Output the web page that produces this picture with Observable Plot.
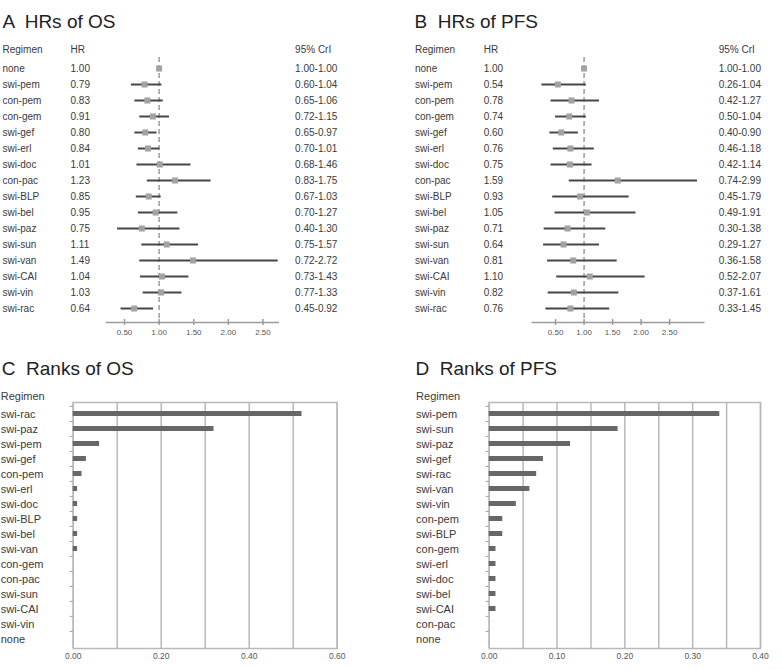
<!DOCTYPE html>
<html>
<head>
<meta charset="utf-8">
<script src="https://cdn.jsdelivr.net/npm/d3@7"></script>
<script src="https://cdn.jsdelivr.net/npm/@observablehq/plot@0.6"></script>
<style>
  body { margin: 0; background: #fff; }
  #chart { position: relative; width: 782px; height: 670px; background: #fff; font-family: "Liberation Sans", Arial, sans-serif; }
  .title { position: absolute; font-size: 19px; line-height: 19px; color: #222; white-space: pre; }
  #chart svg { position: absolute; }
</style>
</head>
<body>
<div id="chart"></div>
<script>
// Hazard ratios (with 95% credible intervals) versus "none"
const regimens = ["none","swi-pem","con-pem","con-gem","swi-gef","swi-erl","swi-doc","con-pac","swi-BLP","swi-bel","swi-paz","swi-sun","swi-van","swi-CAI","swi-vin","swi-rac"];

const osHR   = [1.00,0.79,0.83,0.91,0.80,0.84,1.01,1.23,0.85,0.95,0.75,1.11,1.49,1.04,1.03,0.64];
const osLow  = [1.00,0.60,0.65,0.72,0.65,0.70,0.68,0.83,0.67,0.70,0.40,0.75,0.72,0.73,0.77,0.45];
const osHigh = [1.00,1.04,1.06,1.15,0.97,1.01,1.46,1.75,1.03,1.27,1.30,1.57,2.72,1.43,1.33,0.92];

const pfsHR   = [1.00,0.54,0.78,0.74,0.60,0.76,0.75,1.59,0.93,1.05,0.71,0.64,0.81,1.10,0.82,0.76];
const pfsLow  = [1.00,0.26,0.42,0.50,0.40,0.46,0.42,0.74,0.45,0.49,0.30,0.29,0.36,0.52,0.37,0.33];
const pfsHigh = [1.00,1.04,1.27,1.04,0.90,1.18,1.14,2.99,1.79,1.91,1.38,1.27,1.58,2.07,1.61,1.45];

const hrTicks = [0.5, 1.0, 1.5, 2.0, 2.5];

// Probability of ranking best
const osRankNames = ["swi-rac","swi-paz","swi-pem","swi-gef","con-pem","swi-erl","swi-doc","swi-BLP","swi-bel","swi-van","con-gem","con-pac","swi-sun","swi-CAI","swi-vin","none"];
const osRankProb  = [0.52,0.32,0.06,0.03,0.02,0.01,0.01,0.01,0.01,0.01,0,0,0,0,0,0];
const osRankTicks = [0, 0.2, 0.4, 0.6];
const osRankGrid  = [0, 0.1, 0.2, 0.3, 0.4, 0.5, 0.6];

const pfsRankNames = ["swi-pem","swi-sun","swi-paz","swi-gef","swi-rac","swi-van","swi-vin","con-pem","swi-BLP","con-gem","swi-erl","swi-doc","swi-bel","swi-CAI","con-pac","none"];
const pfsRankProb  = [0.34,0.19,0.12,0.08,0.07,0.06,0.04,0.02,0.02,0.01,0.01,0.01,0.01,0.01,0,0];
const pfsRankTicks = [0, 0.1, 0.2, 0.3, 0.4];
const pfsRankGrid  = [0, 0.05, 0.1, 0.15, 0.2, 0.25, 0.3, 0.35, 0.4];

const FONT = '"Liberation Sans", Arial, sans-serif';
const TEXT = "#3a3a3a";
const chart = document.getElementById("chart");

function place(svg, left, top) {
  svg.style.left = left + "px";
  svg.style.top = top + "px";
  chart.appendChild(svg);
}

function forest({hr, lo, hi, domain, left, right, cols}) {
  const rows = regimens.map((name, i) => ({name, hr: hr[i], lo: lo[i], hi: hi[i]}));
  const W = 391, H = 345, top = 57, axisY = 322;
  const col = (x) => x - left;
  const textOpts = {frameAnchor: "left", textAnchor: "start", lineAnchor: "middle", fontSize: 10, fill: TEXT};
  const header = (label, x) => Plot.text([label], {...textOpts, text: d => d, frameAnchor: "top-left", dx: col(x), dy: -7.7});
  return Plot.plot({
    width: W, height: H,
    marginLeft: left, marginRight: W - right, marginTop: top, marginBottom: H - axisY,
    style: {fontFamily: FONT, background: "transparent", overflow: "visible", color: TEXT},
    x: {domain, label: null},
    y: {type: "point", domain: regimens, range: [65, 311], padding: 0, axis: null, label: null},
    marks: [
      Plot.ruleX([1], {stroke: "#9c9c9c", strokeWidth: 1.5, strokeDasharray: "5,3"}),
      Plot.ruleY(rows.filter(d => d.hi > d.lo), {y: "name", x1: "lo", x2: "hi", stroke: "#464646", strokeWidth: 2}),
      Plot.dot(rows, {x: "hr", y: "name", symbol: "square", r: 3.4, fill: "#a2a2a2", stroke: null}),
      Plot.frame({anchor: "bottom", stroke: "#9c9c9c", strokeWidth: 1.5}),
      Plot.axisX({ticks: hrTicks, tickSize: 6, dy: -3, tickFormat: () => "", stroke: "#9c9c9c", strokeWidth: 1.5, label: null}),
      Plot.axisX({ticks: hrTicks, tickSize: 0, tickPadding: 7, tickFormat: ".2f", fontSize: 8, fill: "#555", label: null}),
      Plot.text(rows, {...textOpts, y: "name", text: "name", dx: col(cols[0])}),
      Plot.text(rows, {...textOpts, y: "name", text: d => d.hr.toFixed(2), dx: col(cols[1])}),
      Plot.text(rows, {...textOpts, y: "name", text: d => `${d.lo.toFixed(2)}-${d.hi.toFixed(2)}`, dx: col(cols[2])}),
      header("Regimen", cols[0]),
      header("HR", cols[1]),
      header("95% CrI", cols[2])
    ]
  });
}

function ranks({names, prob, ticks, grid, left, right, labelX}) {
  const rows = names.map((name, i) => ({name, p: prob[i]}));
  const W = 391, H = 290, y0 = 24, y1 = 268;
  const step = (y1 - y0) / names.length;
  return Plot.plot({
    width: W, height: H,
    marginLeft: left, marginRight: W - right, marginTop: 22, marginBottom: 22,
    style: {fontFamily: FONT, background: "transparent", overflow: "visible", color: TEXT},
    x: {domain: [0, ticks[ticks.length - 1]], label: null},
    y: {type: "band", domain: names, range: [y0, y1], paddingInner: 0.65, paddingOuter: 0.325, label: null},
    marks: [
      Plot.gridX({ticks: grid, stroke: "#b9b9b9", strokeOpacity: 1, strokeWidth: 1.5}),
      Plot.frame({stroke: "#b9b9b9", strokeWidth: 1.5}),
      Plot.barX(rows, {x: "p", y: "name", fill: "#676767"}),
      Plot.axisY({tickSize: 3, tickFormat: () => "", dy: -step / 2, stroke: "#9c9c9c", label: null}),
      Plot.axisX({ticks, tickFormat: ".2f", tickSize: 0, tickPadding: 4, fontSize: 8.5, fill: "#555", label: null}),
      Plot.text(rows, {y: "name", text: "name", frameAnchor: "left", textAnchor: "start", lineAnchor: "middle", dx: labelX - left, fontSize: 11, fill: TEXT}),
      Plot.text(["Regimen"], {text: d => d, frameAnchor: "top-left", textAnchor: "start", lineAnchor: "middle", dx: labelX - left, dy: -6.5, fontSize: 11, fill: TEXT})
    ]
  });
}

place(forest({hr: osHR, lo: osLow, hi: osHigh, domain: [0.24, 2.72], left: 106, right: 277.7, cols: [2, 70, 294.6]}), 0, 0);
place(forest({hr: pfsHR, lo: pfsLow, hi: pfsHigh, domain: [0.09, 3.10], left: 140.7, right: 312.3, cols: [23.5, 92.2, 327.2]}), 391, 0);
place(ranks({names: osRankNames, prob: osRankProb, ticks: osRankTicks, grid: osRankGrid, left: 72.7, right: 336.7, labelX: 0.2}), 0, 380);
place(ranks({names: pfsRankNames, prob: pfsRankProb, ticks: pfsRankTicks, grid: pfsRankGrid, left: 97.7, right: 369, labelX: 24.6}), 391, 380);

// Panel titles
const titles = [["A  HRs of OS", 2.5, 12.2], ["B  HRs of PFS", 414.5, 12.2], ["C  Ranks of OS", 1.8, 358.8], ["D  Ranks of PFS", 415.5, 358.8]];
for (const [t, x, y] of titles) {
  const div = document.createElement("div");
  div.className = "title";
  div.textContent = t;
  div.style.left = x + "px";
  div.style.top = y + "px";
  chart.appendChild(div);
}
</script>
</body>
</html>
